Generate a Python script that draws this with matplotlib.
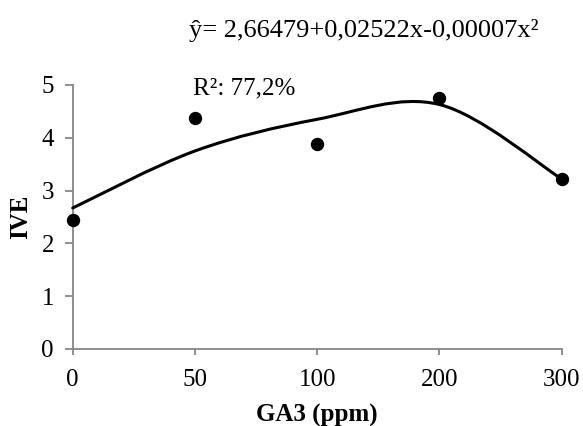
import numpy as np
import matplotlib.pyplot as plt
from matplotlib.path import Path
from matplotlib.patches import PathPatch

plt.rcParams['font.family'] = ['Liberation Serif', 'DejaVu Serif']

# data
doses = ['0', '50', '100', '200', '300']
ive_obs = [2.45, 4.37, 3.88, 4.76, 3.22]      # observed points
ive_fit = [2.67, 3.75, 4.35, 4.63, 3.22]      # smoothed trend line nodes
yticks = [0, 1, 2, 3, 4, 5]

gray = '#868686'
fs = 18

fig = plt.figure(figsize=(5.83, 4.26), dpi=100)
ax = fig.add_axes([0.1247, 0.1808, 0.8388, 0.6197])

xs = np.arange(len(doses))

# excel-like smoothed line: bezier through the nodes
pts = np.column_stack([xs, ive_fit]).astype(float)
verts = [tuple(pts[0])]
codes = [Path.MOVETO]
n = len(pts)
for i in range(n - 1):
    p_prev = pts[i - 1] if i > 0 else pts[i]
    p_next = pts[i + 2] if i + 2 < n else pts[i + 1]
    c1 = pts[i] + (pts[i + 1] - p_prev) / 6
    c2 = pts[i + 1] - (p_next - pts[i]) / 6
    verts += [tuple(c1), tuple(c2), tuple(pts[i + 1])]
    codes += [Path.CURVE4] * 3
ax.add_patch(PathPatch(Path(verts, codes), fc='none', ec='black', lw=2.2,
                       capstyle='round', clip_on=False, zorder=3))

ax.plot(xs, ive_obs, 'o', color='black', ms=8.6, clip_on=False, zorder=4)

ax.set_xlim(0, len(doses) - 1)
ax.set_ylim(0, 5)
ax.set_xticks(xs)
ax.set_xticklabels(doses)
ax.set_yticks(yticks)

for s in ['top', 'right']:
    ax.spines[s].set_visible(False)
for s in ['left', 'bottom']:
    ax.spines[s].set_color(gray)
    ax.spines[s].set_linewidth(1.3)
ax.tick_params(direction='out', width=1.3, color=gray, labelsize=fs)
ax.tick_params(axis='x', length=4.5, pad=10)
ax.tick_params(axis='y', length=5.5, pad=8)

ax.set_xlabel('GA3 (ppm)', fontsize=fs, fontweight='bold', va='baseline')
ax.xaxis.set_label_coords(0.5, -0.275)
ax.set_ylabel('IVE', fontsize=fs, fontweight='bold', va='center')
ax.yaxis.set_label_coords(-0.107, 0.5)

fig.text(0.624, 1 - 37 / 426, 'ŷ= 2,66479+0,02522x-0,00007x²', fontsize=19,
         ha='center', va='baseline')
ax.text(1.40, 4.83, 'R²: 77,2%', fontsize=fs, ha='center', va='baseline')

fig.savefig('out.png', dpi=100)
